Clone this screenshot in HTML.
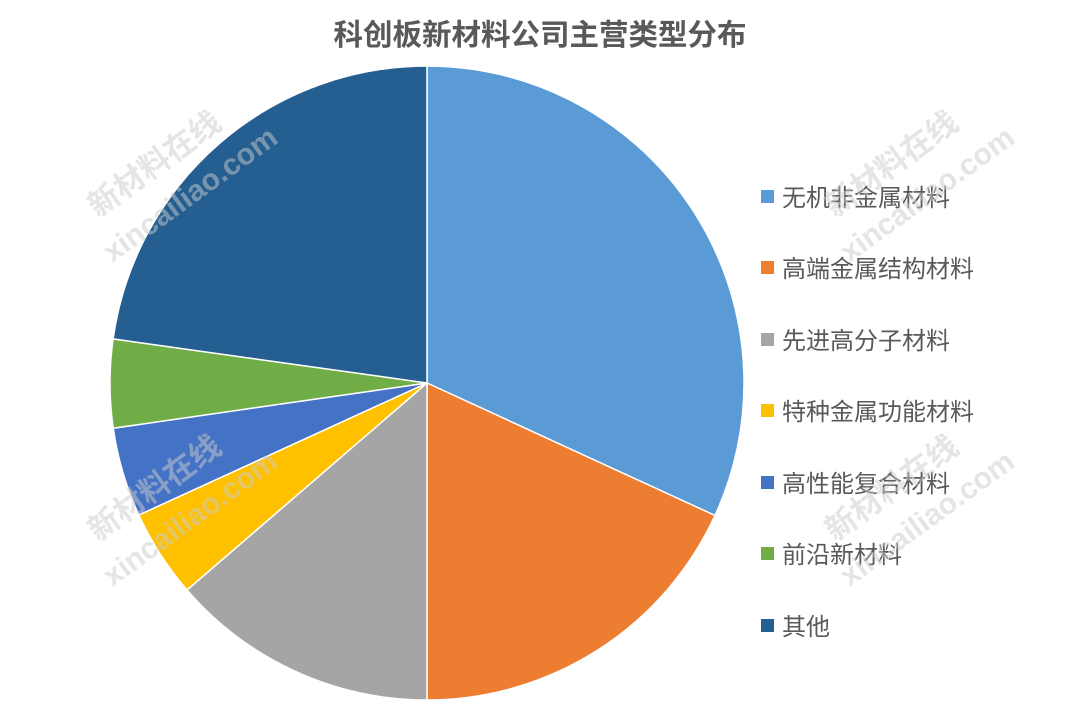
<!DOCTYPE html>
<html><head><meta charset="utf-8"><style>
body{margin:0;background:#fff;}
svg text{font-family:"Liberation Sans","Noto Sans CJK SC",sans-serif;}
</style></head><body>
<svg width="1080" height="709" viewBox="0 0 1080 709" xmlns="http://www.w3.org/2000/svg">
<rect width="1080" height="709" fill="#fff"/>
<text x="540" y="45" text-anchor="middle" font-size="29.5" font-weight="bold" fill="#595959">科创板新材料公司主营类型分布</text>
<g stroke="#fff" stroke-width="1.5">
<path d="M427,383 L427,66 A317,317 0 0 1 715,515.5 Z" fill="#5B9BD5"/>
<path d="M427,383 L715,515.5 A317,317 0 0 1 427,700 Z" fill="#ED7D31"/>
<path d="M427,383 L427,700 A317,317 0 0 1 187,590 Z" fill="#A5A5A5"/>
<path d="M427,383 L187,590 A317,317 0 0 1 138.8,515 Z" fill="#FFC000"/>
<path d="M427,383 L138.8,515 A317,317 0 0 1 113.2,428.2 Z" fill="#4472C4"/>
<path d="M427,383 L113.2,428.2 A317,317 0 0 1 113.1,338.9 Z" fill="#70AD47"/>
<path d="M427,383 L113.1,338.9 A317,317 0 0 1 427,66 Z" fill="#255E91"/>
</g>
<g font-size="24" fill="#595959">
<rect x="761" y="190" width="13" height="13" fill="#5B9BD5"/><text x="782" y="206">无机非金属材料</text>
<rect x="761" y="261" width="13" height="13" fill="#ED7D31"/><text x="782" y="277">高端金属结构材料</text>
<rect x="761" y="333" width="13" height="13" fill="#A5A5A5"/><text x="782" y="349">先进高分子材料</text>
<rect x="761" y="404" width="13" height="13" fill="#FFC000"/><text x="782" y="420">特种金属功能材料</text>
<rect x="761" y="476" width="13" height="13" fill="#4472C4"/><text x="782" y="492">高性能复合材料</text>
<rect x="761" y="547" width="13" height="13" fill="#70AD47"/><text x="782" y="563">前沿新材料</text>
<rect x="761" y="619" width="13" height="13" fill="#255E91"/><text x="782" y="635">其他</text>
</g>
<g fill="#cccccc" fill-opacity="0.5" font-weight="bold">
<g transform="translate(98,218) rotate(-36)"><text font-size="31">新材料在线</text><text x="-15" y="45" font-size="30">xincailiao.com</text></g>
<g transform="translate(835,218) rotate(-36)"><text font-size="31">新材料在线</text><text x="-15" y="45" font-size="30">xincailiao.com</text></g>
<g transform="translate(98,542) rotate(-36)"><text font-size="31">新材料在线</text><text x="-15" y="45" font-size="30">xincailiao.com</text></g>
<g transform="translate(835,542) rotate(-36)"><text font-size="31">新材料在线</text><text x="-15" y="45" font-size="30">xincailiao.com</text></g>
</g>
</svg>
</body></html>
